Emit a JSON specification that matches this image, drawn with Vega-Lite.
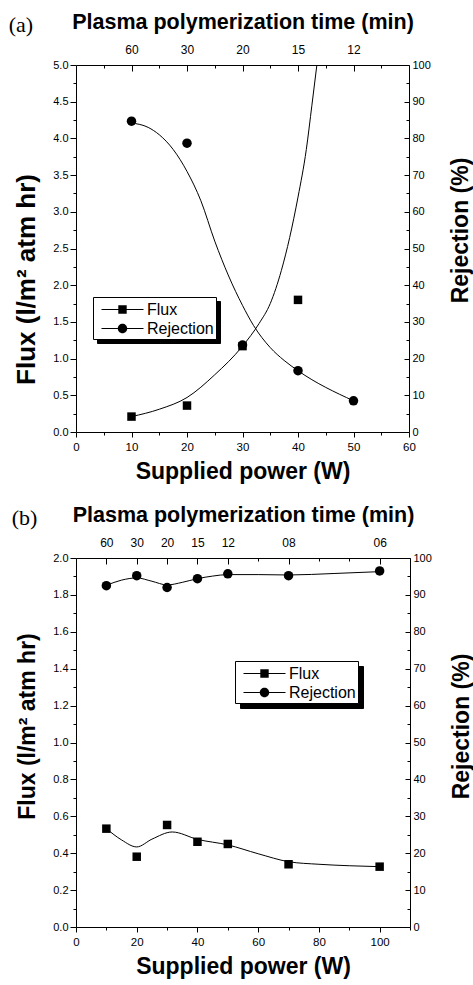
{
  "$schema": "https://vega.github.io/schema/vega-lite/v6.json",
  "background": "white",
  "padding": {"left": 8, "top": 11, "right": 0, "bottom": 0},
  "autosize": {"type": "pad"},
  "spacing": 20,
  "config": {
    "view": {"stroke": null},
    "font": "Liberation Sans",
    "axis": {
      "domainColor": "black", "tickColor": "black", "labelColor": "black", "titleColor": "black",
      "labelFont": "Liberation Sans", "titleFont": "Liberation Sans", "titleFontWeight": "bold",
      "grid": false, "domainWidth": 1, "tickWidth": 1, "labelFontSize": 11,
      "labelFlush": false, "labelOverlap": false
    },
    "title": {"font": "Liberation Serif", "fontSize": 22, "fontWeight": "normal", "color": "black", "anchor": "start", "offset": -26, "dx": -5}
  },
  "resolve": {"scale": {"shape": "independent"}, "legend": {"shape": "independent"}},
  "vconcat": [
    {
      "title": "(a)",
      "width": 333,
      "height": 367,
      "data": {"values": [
        {"var": "Flux", "kind": "obs", "power": 10, "value": 0.21},
        {"var": "Flux", "kind": "obs", "power": 20, "value": 0.36},
        {"var": "Flux", "kind": "obs", "power": 30, "value": 1.17},
        {"var": "Flux", "kind": "obs", "power": 40, "value": 1.80},
        {"var": "Rejection", "kind": "obs", "power": 10, "value": 84.7},
        {"var": "Rejection", "kind": "obs", "power": 20, "value": 78.7},
        {"var": "Rejection", "kind": "obs", "power": 30, "value": 23.7},
        {"var": "Rejection", "kind": "obs", "power": 40, "value": 16.7},
        {"var": "Rejection", "kind": "obs", "power": 50, "value": 8.5},
        {"var": "Flux", "kind": "curve", "power": 10, "value": 0.21},
        {"var": "Flux", "kind": "curve", "power": 15, "value": 0.31},
        {"var": "Flux", "kind": "curve", "power": 20, "value": 0.47},
        {"var": "Flux", "kind": "curve", "power": 25, "value": 0.78},
        {"var": "Flux", "kind": "curve", "power": 30, "value": 1.17},
        {"var": "Flux", "kind": "curve", "power": 33, "value": 1.48},
        {"var": "Flux", "kind": "curve", "power": 35, "value": 1.75},
        {"var": "Flux", "kind": "curve", "power": 37, "value": 2.2},
        {"var": "Flux", "kind": "curve", "power": 38.5, "value": 2.65},
        {"var": "Flux", "kind": "curve", "power": 40, "value": 3.2},
        {"var": "Flux", "kind": "curve", "power": 41.5, "value": 3.85},
        {"var": "Flux", "kind": "curve", "power": 42.5, "value": 4.45},
        {"var": "Flux", "kind": "curve", "power": 43.4, "value": 5.0},
        {"var": "Rejection", "kind": "curve", "power": 10, "value": 84.2},
        {"var": "Rejection", "kind": "curve", "power": 13, "value": 83},
        {"var": "Rejection", "kind": "curve", "power": 15, "value": 81},
        {"var": "Rejection", "kind": "curve", "power": 17.5, "value": 77},
        {"var": "Rejection", "kind": "curve", "power": 20, "value": 71},
        {"var": "Rejection", "kind": "curve", "power": 22.5, "value": 63},
        {"var": "Rejection", "kind": "curve", "power": 25, "value": 52},
        {"var": "Rejection", "kind": "curve", "power": 27.5, "value": 42.5},
        {"var": "Rejection", "kind": "curve", "power": 30, "value": 34.5},
        {"var": "Rejection", "kind": "curve", "power": 32, "value": 29},
        {"var": "Rejection", "kind": "curve", "power": 35, "value": 23},
        {"var": "Rejection", "kind": "curve", "power": 37.5, "value": 19.5},
        {"var": "Rejection", "kind": "curve", "power": 40, "value": 16.7},
        {"var": "Rejection", "kind": "curve", "power": 50, "value": 8.5}
      ]},
      "layer": [
        {
          "transform": [{"filter": "datum.var === 'Flux'"}],
          "encoding": {
            "x": {"field": "power", "type": "quantitative", "scale": {"domain": [0, 60], "nice": false, "zero": false},
              "axis": {"orient": "bottom", "values": [0,10,20,30,40,50,60], "format": "d",
                "tickSize": 5, "labelPadding": 4, "labelFontSize": 11.5,
                "title": "Supplied power (W)", "titleFontSize": 23, "titlePadding": 8}},
            "y": {"field": "value", "type": "quantitative", "scale": {"domain": [0, 5], "nice": false},
              "axis": {"orient": "left", "values": [0,0.5,1,1.5,2,2.5,3,3.5,4,4.5,5], "format": ".1f",
                "tickSize": 6, "labelPadding": 2,
                "title": "Flux (l/m² atm hr)", "titleFontSize": 26, "titlePadding": 13, "titleY": 214}}
          },
          "layer": [
            {"transform": [{"filter": "datum.kind === 'curve'"}], "mark": {"type": "line", "color": "black", "strokeWidth": 1, "interpolate": "monotone"}},
            {"transform": [{"filter": "datum.kind === 'obs'"}], "mark": {"type": "point", "shape": "square", "filled": true, "color": "black", "opacity": 1, "size": 72}}
          ]
        },
        {
          "transform": [{"filter": "datum.var === 'Rejection'"}],
          "encoding": {
            "x": {"field": "power", "type": "quantitative", "scale": {"domain": [0, 60], "nice": false, "zero": false},
              "axis": {"orient": "top", "values": [10,20,30,40,50],
                "labelExpr": "datum.value === 10 ? '60' : datum.value === 20 ? '30' : datum.value === 30 ? '20' : datum.value === 40 ? '15' : '12'",
                "tickSize": -6, "labelPadding": 15, "labelFontSize": 12,
                "title": "Plasma polymerization time (min)", "titleFontSize": 21.5, "titlePadding": 10}},
            "y": {"field": "value", "type": "quantitative", "scale": {"domain": [0, 100], "nice": false},
              "axis": {"orient": "right", "values": [0,10,20,30,40,50,60,70,80,90,100], "format": "d",
                "tickSize": -5, "labelPadding": 8,
                "title": "Rejection (%)", "titleFontSize": 23, "titleAngle": 270, "titleBaseline": "top", "titlePadding": 19, "titleY": 165}}
          },
          "layer": [
            {"transform": [{"filter": "datum.kind === 'curve'"}], "mark": {"type": "line", "color": "black", "strokeWidth": 1, "interpolate": "monotone"}},
            {"transform": [{"filter": "datum.kind === 'obs'"}], "mark": {"type": "point", "shape": "circle", "filled": true, "color": "black", "opacity": 1, "size": 90}}
          ]
        },
        {
          "transform": [{"filter": "datum.var === 'Flux' && datum.kind === 'obs'"}],
          "mark": {"type": "point", "filled": true, "color": "black", "opacity": 0, "size": 441},
          "encoding": {
            "x": {"field": "power", "type": "quantitative", "scale": {"domain": [0, 60], "nice": false, "zero": false},
              "axis": {"orient": "bottom", "values": [5,15,25,35,45,55], "labels": false, "domain": false, "tickSize": 3, "title": null}},
            "y": {"field": "value", "type": "quantitative", "scale": {"domain": [0, 5], "nice": false},
              "axis": {"orient": "left", "values": [0.25,0.75,1.25,1.75,2.25,2.75,3.25,3.75,4.25,4.75], "labels": false, "domain": false, "tickSize": 3, "title": null}},
            "shape": {"field": "var", "type": "nominal",
              "scale": {"domain": ["Flux", "Rejection"], "range": ["M-2,-0.05H-0.4V-0.4H0.4V-0.05H2V0.05H0.4V0.4H-0.4V0.05H-2Z", "M-2,-0.05H-0.445V0.05H-2Z M0.445,-0.05H2V0.05H0.445Z M-0.45,0A0.45,0.45 0 1,0 0.45,0A0.45,0.45 0 1,0 -0.45,0Z"]},
              "legend": {"orient": "none", "legendX": 17, "legendY": 232, "title": null, "padding": 2, "symbolOffset": 17, "labelOffset": 14, "rowPadding": 0,
                "labelFontSize": 16, "labelFont": "Liberation Sans", "labelColor": "black", "symbolSize": 441, "symbolFillColor": "black", "symbolStrokeWidth": 0, "symbolOpacity": 1,
                "fillColor": "white", "strokeColor": "black", "zindex": 2}}
          }
        },
        {
          "transform": [{"filter": "datum.var === 'Rejection' && datum.kind === 'obs'"}],
          "mark": {"type": "point", "filled": true, "color": "black", "opacity": 0, "size": 441},
          "encoding": {
            "x": {"field": "power", "type": "quantitative", "scale": {"domain": [0, 60], "nice": false, "zero": false},
              "axis": {"orient": "top", "values": [5,15,25,35,45,55], "labels": false, "domain": false, "tickSize": -3, "title": null}},
            "y": {"field": "value", "type": "quantitative", "scale": {"domain": [0, 100], "nice": false},
              "axis": {"orient": "right", "values": [5,15,25,35,45,55,65,75,85,95], "labels": false, "domain": false, "tickSize": -3, "title": null}},
            "shape": {"field": "var", "type": "nominal",
              "legend": {"orient": "none", "legendX": 21, "legendY": 236, "title": null, "padding": 2, "symbolOffset": 17, "labelOffset": 81, "rowPadding": 0,
                "labelExpr": "''",
                "labelFontSize": 16, "labelFont": "Liberation Sans", "labelColor": "black", "symbolSize": 441, "symbolFillColor": "black", "symbolStrokeWidth": 0, "symbolOpacity": 1,
                "fillColor": "black", "strokeColor": "black", "zindex": 1}}
          }
        }
      ],
      "resolve": {"scale": {"x": "independent", "y": "independent"}, "axis": {"x": "independent", "y": "independent"}, "legend": {"shape": "independent"}}
    },
    {
      "title": "(b)",
      "width": 334,
      "height": 369,
      "data": {"values": [
        {"var": "Flux", "kind": "obs", "power": 10, "value": 0.533},
        {"var": "Flux", "kind": "obs", "power": 20, "value": 0.381},
        {"var": "Flux", "kind": "obs", "power": 30, "value": 0.553},
        {"var": "Flux", "kind": "obs", "power": 40, "value": 0.462},
        {"var": "Flux", "kind": "obs", "power": 50, "value": 0.450},
        {"var": "Flux", "kind": "obs", "power": 70, "value": 0.340},
        {"var": "Flux", "kind": "obs", "power": 100, "value": 0.327},
        {"var": "Rejection", "kind": "obs", "power": 10, "value": 92.5},
        {"var": "Rejection", "kind": "obs", "power": 20, "value": 95.2},
        {"var": "Rejection", "kind": "obs", "power": 30, "value": 92.0},
        {"var": "Rejection", "kind": "obs", "power": 40, "value": 94.4},
        {"var": "Rejection", "kind": "obs", "power": 50, "value": 95.7},
        {"var": "Rejection", "kind": "obs", "power": 70, "value": 95.2},
        {"var": "Rejection", "kind": "obs", "power": 100, "value": 96.5},
        {"var": "Flux", "kind": "curve", "power": 10, "value": 0.533},
        {"var": "Flux", "kind": "curve", "power": 15, "value": 0.472},
        {"var": "Flux", "kind": "curve", "power": 20, "value": 0.434},
        {"var": "Flux", "kind": "curve", "power": 25, "value": 0.476},
        {"var": "Flux", "kind": "curve", "power": 31.7, "value": 0.515},
        {"var": "Flux", "kind": "curve", "power": 40, "value": 0.475},
        {"var": "Flux", "kind": "curve", "power": 50, "value": 0.445},
        {"var": "Flux", "kind": "curve", "power": 60, "value": 0.397},
        {"var": "Flux", "kind": "curve", "power": 70, "value": 0.354},
        {"var": "Flux", "kind": "curve", "power": 80, "value": 0.340},
        {"var": "Flux", "kind": "curve", "power": 90, "value": 0.332},
        {"var": "Flux", "kind": "curve", "power": 100, "value": 0.327},
        {"var": "Rejection", "kind": "curve", "power": 10, "value": 92.6},
        {"var": "Rejection", "kind": "curve", "power": 15, "value": 94.0},
        {"var": "Rejection", "kind": "curve", "power": 20, "value": 94.6},
        {"var": "Rejection", "kind": "curve", "power": 25, "value": 93.7},
        {"var": "Rejection", "kind": "curve", "power": 30, "value": 92.7},
        {"var": "Rejection", "kind": "curve", "power": 35, "value": 93.4},
        {"var": "Rejection", "kind": "curve", "power": 40, "value": 94.4},
        {"var": "Rejection", "kind": "curve", "power": 45, "value": 95.1},
        {"var": "Rejection", "kind": "curve", "power": 50, "value": 95.5},
        {"var": "Rejection", "kind": "curve", "power": 60, "value": 95.5},
        {"var": "Rejection", "kind": "curve", "power": 70, "value": 95.4},
        {"var": "Rejection", "kind": "curve", "power": 85, "value": 95.8},
        {"var": "Rejection", "kind": "curve", "power": 100, "value": 96.3}
      ]},
      "layer": [
        {
          "transform": [{"filter": "datum.var === 'Flux'"}],
          "encoding": {
            "x": {"field": "power", "type": "quantitative", "scale": {"domain": [0, 110], "nice": false, "zero": false},
              "axis": {"orient": "bottom", "values": [0,20,40,60,80,100], "format": "d",
                "tickSize": 5, "labelPadding": 4, "labelFontSize": 11.5,
                "title": "Supplied power (W)", "titleFontSize": 23, "titlePadding": 8}},
            "y": {"field": "value", "type": "quantitative", "scale": {"domain": [0, 2], "nice": false},
              "axis": {"orient": "left", "values": [0,0.2,0.4,0.6,0.8,1,1.2,1.4,1.6,1.8,2], "format": ".1f",
                "tickSize": 6, "labelPadding": 2,
                "title": "Flux (l/m² atm hr)", "titleFontSize": 23, "titlePadding": 13, "titleY": 168}}
          },
          "layer": [
            {"transform": [{"filter": "datum.kind === 'curve'"}], "mark": {"type": "line", "color": "black", "strokeWidth": 1, "interpolate": "monotone"}},
            {"transform": [{"filter": "datum.kind === 'obs'"}], "mark": {"type": "point", "shape": "square", "filled": true, "color": "black", "opacity": 1, "size": 72}}
          ]
        },
        {
          "transform": [{"filter": "datum.var === 'Rejection'"}],
          "encoding": {
            "x": {"field": "power", "type": "quantitative", "scale": {"domain": [0, 110], "nice": false, "zero": false},
              "axis": {"orient": "top", "values": [10,20,30,40,50,70,100],
                "labelExpr": "datum.value === 10 ? '60' : datum.value === 20 ? '30' : datum.value === 30 ? '20' : datum.value === 40 ? '15' : datum.value === 50 ? '12' : datum.value === 70 ? '08' : '06'",
                "tickSize": -6, "labelPadding": 15, "labelFontSize": 12,
                "title": "Plasma polymerization time (min)", "titleFontSize": 21.5, "titlePadding": 10}},
            "y": {"field": "value", "type": "quantitative", "scale": {"domain": [0, 100], "nice": false},
              "axis": {"orient": "right", "values": [0,10,20,30,40,50,60,70,80,90,100], "format": "d",
                "tickSize": -5, "labelPadding": 8,
                "title": "Rejection (%)", "titleFontSize": 23, "titleAngle": 270, "titleBaseline": "top", "titlePadding": 19, "titleY": 168}}
          },
          "layer": [
            {"transform": [{"filter": "datum.kind === 'curve'"}], "mark": {"type": "line", "color": "black", "strokeWidth": 1, "interpolate": "monotone"}},
            {"transform": [{"filter": "datum.kind === 'obs'"}], "mark": {"type": "point", "shape": "circle", "filled": true, "color": "black", "opacity": 1, "size": 90}}
          ]
        },
        {
          "transform": [{"filter": "datum.var === 'Flux' && datum.kind === 'obs'"}],
          "mark": {"type": "point", "filled": true, "color": "black", "opacity": 0, "size": 441},
          "encoding": {
            "x": {"field": "power", "type": "quantitative", "scale": {"domain": [0, 110], "nice": false, "zero": false},
              "axis": {"orient": "bottom", "values": [10,30,50,70,90,110], "labels": false, "domain": false, "tickSize": 3, "title": null}},
            "y": {"field": "value", "type": "quantitative", "scale": {"domain": [0, 2], "nice": false},
              "axis": {"orient": "left", "values": [0.1,0.3,0.5,0.7,0.9,1.1,1.3,1.5,1.7,1.9], "labels": false, "domain": false, "tickSize": 3, "title": null}},
            "shape": {"field": "var", "type": "nominal",
              "scale": {"domain": ["Flux", "Rejection"], "range": ["M-2,-0.05H-0.4V-0.4H0.4V-0.05H2V0.05H0.4V0.4H-0.4V0.05H-2Z", "M-2,-0.05H-0.445V0.05H-2Z M0.445,-0.05H2V0.05H0.445Z M-0.45,0A0.45,0.45 0 1,0 0.45,0A0.45,0.45 0 1,0 -0.45,0Z"]},
              "legend": {"orient": "none", "legendX": 159, "legendY": 103, "title": null, "padding": 2, "symbolOffset": 17, "labelOffset": 14, "rowPadding": 0,
                "labelFontSize": 16, "labelFont": "Liberation Sans", "labelColor": "black", "symbolSize": 441, "symbolFillColor": "black", "symbolStrokeWidth": 0, "symbolOpacity": 1,
                "fillColor": "white", "strokeColor": "black", "zindex": 2}}
          }
        },
        {
          "transform": [{"filter": "datum.var === 'Rejection' && datum.kind === 'obs'"}],
          "mark": {"type": "point", "filled": true, "color": "black", "opacity": 0, "size": 441},
          "encoding": {
            "x": {"field": "power", "type": "quantitative", "scale": {"domain": [0, 110], "nice": false, "zero": false},
              "axis": {"orient": "top", "values": [60,80,90], "labels": false, "domain": false, "tickSize": -3, "title": null}},
            "y": {"field": "value", "type": "quantitative", "scale": {"domain": [0, 100], "nice": false},
              "axis": {"orient": "right", "values": [5,15,25,35,45,55,65,75,85,95], "labels": false, "domain": false, "tickSize": -3, "title": null}},
            "shape": {"field": "var", "type": "nominal",
              "legend": {"orient": "none", "legendX": 164, "legendY": 108, "title": null, "padding": 2, "symbolOffset": 17, "labelOffset": 81, "rowPadding": 0,
                "labelExpr": "''",
                "labelFontSize": 16, "labelFont": "Liberation Sans", "labelColor": "black", "symbolSize": 441, "symbolFillColor": "black", "symbolStrokeWidth": 0, "symbolOpacity": 1,
                "fillColor": "black", "strokeColor": "black", "zindex": 1}}
          }
        }
      ],
      "resolve": {"scale": {"x": "independent", "y": "independent"}, "axis": {"x": "independent", "y": "independent"}, "legend": {"shape": "independent"}}
    }
  ]
}
